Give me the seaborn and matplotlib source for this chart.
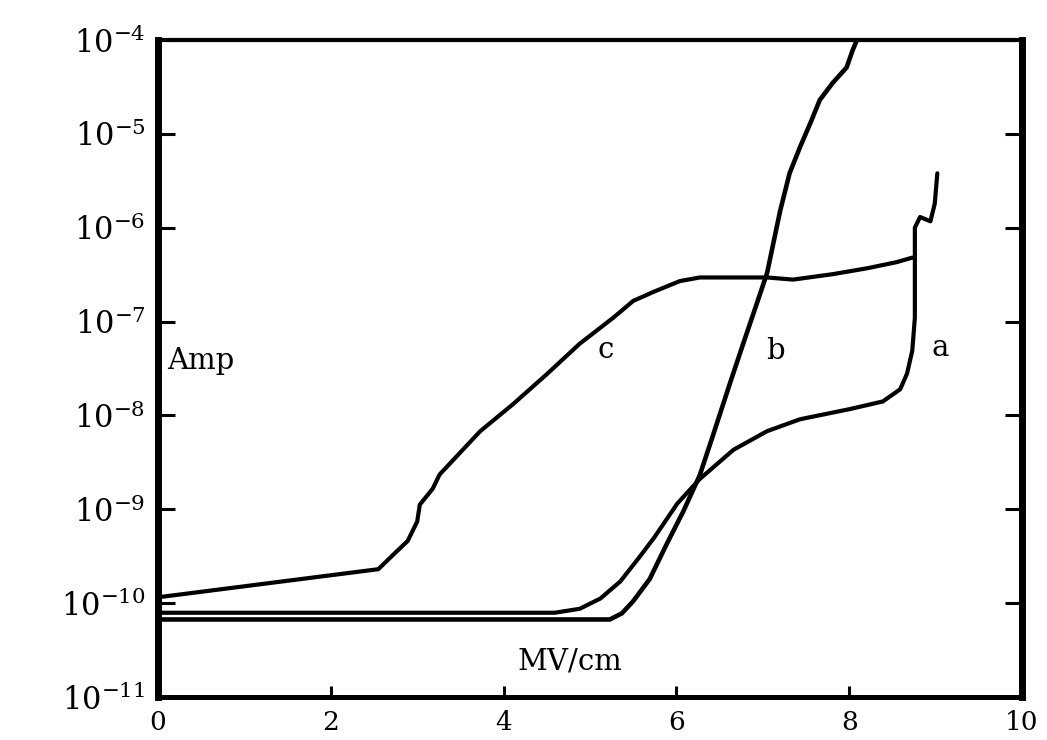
import matplotlib
matplotlib.use("Agg")
import matplotlib.pyplot as plt
import seaborn as sns
import numpy as np
from matplotlib.ticker import FixedLocator, NullLocator

# ---- data (field in MV/cm, current in Amp) ----
a_x = [0.05, 4.59, 4.88, 5.12, 5.35, 5.58, 5.75, 6.01, 6.27, 6.66, 7.05, 7.43, 8.01,
       8.39, 8.59, 8.67, 8.73, 8.76, 8.76, 8.76, 8.82, 8.94, 8.99, 9.02]
a_y = [7.9e-11, 7.9e-11, 8.7e-11, 1.12e-10, 1.7e-10, 3.16e-10, 5.1e-10, 1.15e-9, 2.1e-9,
       4.3e-9, 6.8e-9, 9.1e-9, 1.17e-8, 1.41e-8, 1.9e-8, 2.8e-8, 4.9e-8, 1.1e-7, 3.5e-7,
       1.0e-6, 1.3e-6, 1.17e-6, 1.8e-6, 3.8e-6]

b_x = [0.05, 5.23, 5.37, 5.50, 5.69, 5.89, 6.08, 6.27, 6.42, 6.62, 6.77, 6.93, 7.05,
       7.20, 7.31, 7.43, 7.55, 7.66, 7.81, 7.97, 8.04, 8.09]
b_y = [6.7e-11, 6.7e-11, 7.8e-11, 1.05e-10, 1.8e-10, 4.3e-10, 9.5e-10, 2.3e-9, 6.0e-9,
       2.2e-8, 5.7e-8, 1.55e-7, 3.3e-7, 1.5e-6, 3.8e-6, 7.2e-6, 1.3e-5, 2.3e-5, 3.5e-5,
       5.1e-5, 7.8e-5, 1.0e-4]

c_x = [0.05, 2.55, 2.74, 2.89, 3.00, 3.03, 3.18, 3.26, 3.73, 4.11, 4.50, 4.88, 5.27,
       5.50, 5.75, 6.04, 6.27, 7.05, 7.35, 7.81, 8.21, 8.55, 8.73]
c_y = [1.17e-10, 2.3e-10, 3.4e-10, 4.6e-10, 7.4e-10, 1.12e-9, 1.66e-9, 2.35e-9, 6.8e-9,
       1.32e-8, 2.75e-8, 5.8e-8, 1.1e-7, 1.66e-7, 2.1e-7, 2.7e-7, 2.95e-7, 2.95e-7,
       2.8e-7, 3.2e-7, 3.7e-7, 4.3e-7, 4.8e-7]

x_ticks = [0, 2, 4, 6, 8, 10]
x_ticklabels = ["0", "2", "4", "6", "8", "10"]
y_ticks = [1e-11, 1e-10, 1e-9, 1e-8, 1e-7, 1e-6, 1e-5, 1e-4]
y_ticklabels = [r"$\mathregular{10^{-11}}$", r"$\mathregular{10^{-10}}$",
                r"$\mathregular{10^{-9}}$", r"$\mathregular{10^{-8}}$",
                r"$\mathregular{10^{-7}}$", r"$\mathregular{10^{-6}}$",
                r"$\mathregular{10^{-5}}$", r"$\mathregular{10^{-4}}$"]
curve_labels = ["a", "b", "c"]

sns.set_style("ticks")
plt.rcParams["font.family"] = ["DejaVu Serif", "Liberation Serif"]
plt.rcParams["mathtext.default"] = "regular"
plt.rcParams["text.color"] = "black"

fig = plt.figure(figsize=(10.47, 7.40), dpi=100)
ax = fig.add_axes([158 / 1047, 1 - 697 / 740, (1022 - 158) / 1047, (697 - 40) / 740])

for xs, ys, lw in [(a_x, a_y, 3.0), (b_x, b_y, 3.3), (c_x, c_y, 3.0)]:
    sns.lineplot(x=xs, y=ys, sort=False, estimator=None, color="black",
                 linewidth=lw, ax=ax, solid_joinstyle="round")

ax.set_yscale("log")
ax.set_xlim(0, 10)
ax.set_ylim(1e-11, 1e-4)

ax.xaxis.set_major_locator(FixedLocator(x_ticks))
ax.set_xticklabels(x_ticklabels)
ax.yaxis.set_major_locator(FixedLocator(y_ticks))
ax.yaxis.set_minor_locator(NullLocator())
ax.set_yticklabels(y_ticklabels)

ax.tick_params(axis="both", direction="in", color="black", labelcolor="black")
ax.tick_params(axis="y", length=12, width=2.2, pad=9, right=True, left=True,
               labelsize=22)
ax.tick_params(axis="x", length=8, width=2.2, pad=9, top=False, bottom=True,
               labelsize=19)

for side, w in [("left", 5.0), ("right", 5.0), ("bottom", 3.6), ("top", 3.0)]:
    ax.spines[side].set_visible(True)
    ax.spines[side].set_linewidth(w)
    ax.spines[side].set_color("black")

ax.set_xlabel("")
ax.set_ylabel("")

ax.text(0.1, 3.8e-8, "Amp", fontsize=21, ha="left", va="center", color="black")
ax.text(4.77, 2.4e-11, "MV/cm", fontsize=21, ha="center", va="center", color="black")
ax.text(9.05, 5.2e-8, curve_labels[0], fontsize=21, ha="center", va="center", color="black")
ax.text(7.15, 4.9e-8, curve_labels[1], fontsize=21, ha="center", va="center", color="black")
ax.text(5.18, 5.0e-8, curve_labels[2], fontsize=21, ha="center", va="center", color="black")

fig.savefig("out.png", dpi=100)
